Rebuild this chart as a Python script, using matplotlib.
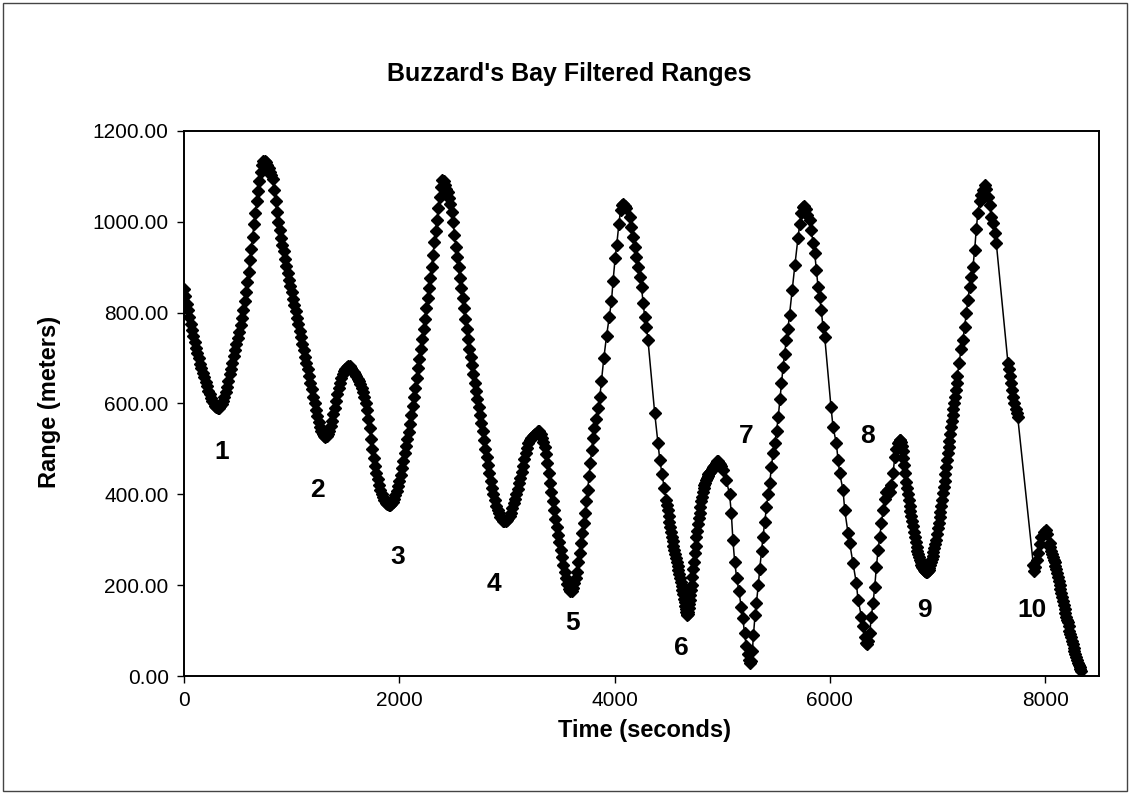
import matplotlib
matplotlib.use('Agg')
import matplotlib.pyplot as plt
from matplotlib.patches import Rectangle

plt.rcParams['font.family'] = ['Liberation Sans', 'DejaVu Sans']

# ── Datos ───────────────────────────────────────────────────────────────────
# tramo denso (0 - 3825 s), muestras cada 25 s
time_dense = [
    0, 25, 50, 75, 100, 125, 150, 175, 200, 225, 250, 275, 300, 325, 350, 375,
    400, 425, 450, 475, 500, 525, 550, 575, 600, 625, 650, 675, 700, 725, 750,
    775, 800, 825, 850, 875, 900, 925, 950, 975, 1000, 1025, 1050, 1075, 1100,
    1125, 1150, 1175, 1200, 1225, 1250, 1275, 1300, 1325, 1350, 1375, 1400,
    1425, 1450, 1475, 1500, 1525, 1550, 1575, 1600, 1625, 1650, 1675, 1700,
    1725, 1750, 1775, 1800, 1825, 1850, 1875, 1900, 1925, 1950, 1975, 2000,
    2025, 2050, 2075, 2100, 2125, 2150, 2175, 2200, 2225, 2250, 2275, 2300,
    2325, 2350, 2375, 2400, 2425, 2450, 2475, 2500, 2525, 2550, 2575, 2600,
    2625, 2650, 2675, 2700, 2725, 2750, 2775, 2800, 2825, 2850, 2875, 2900,
    2925, 2950, 2975, 3000, 3025, 3050, 3075, 3100, 3125, 3150, 3175, 3200,
    3225, 3250, 3275, 3300, 3325, 3350, 3375, 3400, 3425, 3450, 3475, 3500,
    3525, 3550, 3575, 3600, 3625, 3650, 3675, 3700, 3725, 3750, 3775, 3800,
    3825,
]
range_dense = [
    853, 820, 790, 762, 735, 712, 688, 668, 648, 628, 612, 600, 592, 591, 598, 614,
    636, 664, 690, 718, 745, 772, 805, 845, 890, 940, 995, 1045, 1090, 1125, 1135,
    1125, 1110, 1095, 1045, 1000, 965, 935, 903, 873, 845, 817, 789, 760, 732,
    703, 675, 646, 615, 586, 560, 540, 528, 528, 540, 562, 590,
    620, 646, 664, 677, 683, 678, 670, 660, 650, 635, 615, 585,
    545, 500, 462, 433, 410, 394, 382, 377, 378, 390, 408, 430,
    458, 490, 522, 555, 595, 635, 678, 720, 765, 810, 855, 900,
    955, 1005, 1055, 1092, 1080, 1065, 1040, 1000, 945, 900, 855, 810,
    765, 720, 685, 645, 610, 575, 540, 500, 465, 430, 400, 375,
    358, 346, 341, 343, 352, 370, 390, 412, 437, 463, 490, 512,
    525, 530, 536, 539, 525, 505, 470, 425, 385, 345, 310, 278,
    245, 215, 192, 188, 205, 230, 270, 315, 360, 410, 470, 525,
    565,
]

# tramo denso, muestras intermedias (12.5 s desplazadas)
time_dense_mid = [
    12.5, 37.5, 62.5, 87.5, 112.5, 137.5, 162.5, 187.5, 212.5, 237.5, 262.5,
    287.5, 312.5, 337.5, 362.5, 387.5, 412.5, 437.5, 462.5, 487.5, 512.5,
    537.5, 562.5, 587.5, 612.5, 637.5, 662.5, 687.5, 712.5, 737.5, 762.5,
    787.5, 812.5, 837.5, 862.5, 887.5, 912.5, 937.5, 962.5, 987.5, 1012.5,
    1037.5, 1062.5, 1087.5, 1112.5, 1137.5, 1162.5, 1187.5, 1212.5, 1237.5,
    1262.5, 1287.5, 1312.5, 1337.5, 1362.5, 1387.5, 1412.5, 1437.5, 1462.5,
    1487.5, 1512.5, 1537.5, 1562.5, 1587.5, 1612.5, 1637.5, 1662.5, 1687.5,
    1712.5, 1737.5, 1762.5, 1787.5, 1812.5, 1837.5, 1862.5, 1887.5, 1912.5,
    1937.5, 1962.5, 1987.5, 2012.5, 2037.5, 2062.5, 2087.5, 2112.5, 2137.5,
    2162.5, 2187.5, 2212.5, 2237.5, 2262.5, 2287.5, 2312.5, 2337.5, 2362.5,
    2387.5, 2412.5, 2437.5, 2462.5, 2487.5, 2512.5, 2537.5, 2562.5, 2587.5,
    2612.5, 2637.5, 2662.5, 2687.5, 2712.5, 2737.5, 2762.5, 2787.5, 2812.5,
    2837.5, 2862.5, 2887.5, 2912.5, 2937.5, 2962.5, 2987.5, 3012.5, 3037.5,
    3062.5, 3087.5, 3112.5, 3137.5, 3162.5, 3187.5, 3212.5, 3237.5, 3262.5,
    3287.5, 3312.5, 3337.5, 3362.5, 3387.5, 3412.5, 3437.5, 3462.5, 3487.5,
    3512.5, 3537.5, 3562.5, 3587.5, 3612.5, 3637.5, 3662.5, 3687.5, 3712.5,
    3737.5, 3762.5, 3787.5, 3812.5,
]
range_dense_mid = [
    836, 805, 776, 748, 723, 700, 678, 658, 638, 620, 605,
    595, 590, 594, 605, 625, 650, 677, 704, 731, 758,
    788, 825, 867, 915, 967, 1020, 1068, 1110, 1133, 1132,
    1118, 1103, 1070, 1022, 982, 950, 919, 888, 859, 831,
    803, 775, 746, 718, 689, 661, 631, 600, 573,
    549, 533, 526, 533, 550, 576, 605, 634, 656,
    671, 681, 682, 674, 665, 655, 643, 626, 601,
    566, 522, 480, 447, 421, 401, 387, 379, 376,
    383, 398, 418, 443, 474, 506, 538, 575, 615,
    656, 699, 742, 787, 832, 877, 927, 980, 1030,
    1077, 1090, 1073, 1053, 1021, 972, 922, 877, 832,
    787, 742, 702, 665, 627, 592, 557, 520, 482,
    447, 414, 387, 366, 351, 342, 341, 347, 360,
    380, 401, 424, 450, 477, 502, 520, 528, 532,
    540, 533, 516, 488, 447, 405, 365, 327, 294,
    261, 230, 202, 187, 194, 216, 250, 292, 337,
    385, 440, 498, 545,
]

# tramo con muestreo irregular (3847 - 8335 s)
time_sparse = [
    3847, 3863, 3878, 3900, 3925, 3950, 3971, 3986, 4005, 4020, 4040, 4055,
    4070, 4082, 4095, 4110, 4141, 4157, 4172, 4188, 4203, 4219, 4234, 4250,
    4265, 4280, 4296, 4310, 4373, 4404, 4420, 4440, 4460, 4482, 4495, 4510,
    4525, 4540, 4555, 4570, 4585, 4600, 4615, 4630, 4645, 4655, 4665, 4675,
    4685, 4695, 4705, 4715, 4730, 4745, 4760, 4775, 4790, 4805, 4820, 4835,
    4850, 4865, 4880, 4895, 4910, 4925, 4940, 4955, 4970, 4985, 5006, 5037,
    5068, 5084, 5099, 5116, 5135, 5154, 5176, 5192, 5207, 5224, 5239, 5250,
    5260, 5270, 5280, 5290, 5305, 5317, 5335, 5348, 5365, 5379, 5395, 5410,
    5425, 5441, 5457, 5472, 5488, 5505, 5520, 5536, 5550, 5565, 5580, 5595,
    5611, 5625, 5650, 5675, 5704, 5720, 5735, 5750, 5760, 5775, 5790, 5812,
    5828, 5843, 5859, 5874, 5890, 5905, 5920, 5936, 5952, 6010, 6029, 6060,
    6076, 6091, 6122, 6138, 6169, 6184, 6215, 6246, 6262, 6293, 6308, 6323,
    6335, 6345, 6355, 6370, 6385, 6401, 6417, 6432, 6448, 6463, 6479, 6494,
    6510, 6525, 6540, 6556, 6570, 6587, 6603, 6618, 6634, 6648, 6660, 6675,
    6690, 6710, 6725, 6740, 6755, 6772, 6790, 6805, 6820, 6834, 6850, 6865,
    6880, 6895, 6910, 6925, 6940, 6955, 6970, 6988, 7005, 7020, 7035, 7050,
    7065, 7080, 7095, 7110, 7125, 7140, 7155, 7170, 7185, 7200, 7220, 7236,
    7252, 7267, 7283, 7298, 7314, 7329, 7345, 7360, 7375, 7390, 7405, 7420,
    7437, 7453, 7468, 7484, 7499, 7515, 7530, 7546, 7654, 7665, 7675, 7685,
    7695, 7705, 7715, 7725, 7735, 7745, 7890, 7900, 7910, 7920, 7935, 7950,
    7965, 7985, 8005, 8020, 8041, 8055, 8070, 8087, 8100, 8115, 8134, 8150,
    8165, 8180, 8195, 8211, 8225, 8240, 8258, 8270, 8285, 8304, 8320, 8335,
]
range_sparse = [
    590, 615, 650, 700, 748, 790, 825, 870, 920, 950, 995, 1025,
    1038, 1040, 1035, 1030, 1011, 989, 967, 945, 923, 901, 879, 857,
    821, 791, 769, 740, 578, 512, 476, 445, 415, 387, 365, 340,
    318, 297, 277, 260, 243, 225, 207, 190, 170, 155, 140, 135,
    142, 158, 178, 200, 235, 270, 305, 335, 360, 385, 405, 420,
    432, 440, 447, 452, 458, 463, 468, 473, 470, 462, 453, 432,
    400, 360, 300, 250, 215, 188, 152, 127, 94, 65, 48, 35,
    28, 32, 55, 90, 135, 160, 200, 235, 275, 307, 340, 373,
    400, 424, 461, 490, 512, 540, 570, 610, 645, 680, 710, 740,
    765, 795, 850, 905, 965, 995, 1020, 1033, 1035, 1028, 1015, 1004,
    982, 953, 931, 894, 857, 835, 805, 769, 747, 593, 549, 512,
    476, 446, 410, 365, 314, 292, 248, 204, 167, 131, 109, 85,
    72, 70, 78, 94, 131, 160, 197, 241, 277, 307, 336, 365,
    390, 405, 410, 405, 420, 446, 483, 500, 512, 520, 515, 495,
    465, 428, 400, 375, 352, 330, 305, 285, 268, 255, 245, 237,
    232, 230, 231, 238, 250, 265, 282, 299, 325, 350, 375, 402,
    430, 460, 490, 518, 548, 575, 600, 630, 660, 690, 720, 740,
    769, 799, 828, 857, 879, 901, 938, 985, 1020, 1045, 1060, 1070,
    1081, 1072, 1055, 1038, 1011, 997, 975, 953, 690, 675, 660, 645,
    630, 615, 600, 588, 578, 570, 245, 232, 240, 255, 270, 290,
    305, 318, 322, 312, 292, 275, 262, 250, 235, 218, 200, 182,
    165, 148, 130, 118, 100, 85, 70, 55, 42, 28, 20, 12,
]

# muestras extra en las zonas densas de la derecha
time_sparse_mid = [
    4488, 4502, 4517, 4532, 4547, 4562, 4577, 4592, 4607, 4622, 4637, 4650,
    4660, 4670, 4680, 4690, 4700, 4710, 4722, 4737, 4752, 4767, 4782, 4797,
    4812, 4827, 4842, 4857, 4872, 4887, 4902, 4917, 4932, 4947, 4962, 4977,
    6641, 6654, 6667, 6682, 6700, 6717, 6732, 6747, 6763, 6781, 6797, 6812,
    6827, 6842, 6857, 6872, 6887, 6902, 6917, 6932, 6947, 6962, 6979, 6996,
    7012, 7027, 7042, 7057, 7072, 7087, 7102, 7117, 7132, 7147, 7162, 7177,
    8048, 8062, 8078, 8093, 8107, 8124, 8142, 8157, 8172, 8187, 8203, 8218,
    8232, 8249, 8264, 8277, 8294, 8312, 8328,
]
range_sparse_mid = [
    376, 352, 329, 307, 287, 268, 251, 234, 216, 198, 180, 162,
    147, 137, 137, 149, 168, 189, 217, 252, 287, 320, 348, 372,
    395, 413, 426, 436, 444, 450, 455, 460, 465, 471, 473, 467,
    516, 519, 506, 481, 447, 414, 388, 363, 341, 317, 295, 276,
    261, 250, 241, 234, 231, 230, 234, 244, 257, 273, 290, 312,
    337, 362, 388, 416, 445, 475, 504, 533, 561, 587, 615, 645,
    284, 268, 256, 242, 226, 209, 191, 173, 156, 139, 124, 109,
    92, 77, 62, 48, 35, 24, 15,
]

# etiquetas numeradas (posición en datos)
pass_labels = ['1', '2', '3', '4', '5', '6', '7', '8', '9', '10']
label_t = [353, 1235, 1987, 2878, 3612, 4624, 5218, 6351, 6880, 7874]
label_r = [493, 410, 262, 203, 117, 62, 528, 528, 145, 145]

# unir todas las muestras en orden temporal
pts = sorted(zip(time_dense + time_dense_mid + time_sparse + time_sparse_mid,
                 range_dense + range_dense_mid + range_sparse + range_sparse_mid))
time_s = [p[0] for p in pts]
range_m = [p[1] for p in pts]

# ── Gráfica ────────────────────────────────────────────────────────────────
fig = plt.figure(figsize=(11.3, 7.93), dpi=100)
ax = fig.add_axes([184 / 1130, 1 - 676 / 793, (1099 - 184) / 1130, (676 - 131) / 793])

ax.plot(time_s, range_m, color='black', linewidth=1.1, marker='D',
        markersize=5.9, markerfacecolor='black', markeredgecolor='black')

for txt, t, r in zip(pass_labels, label_t, label_r):
    ax.text(t, r, txt, ha='center', va='center', fontsize=19, fontweight='bold')

ax.set_xlim(0, 8500)
ax.set_ylim(0, 1200)
ax.set_xticks([0, 2000, 4000, 6000, 8000])
ax.set_yticks([0, 200, 400, 600, 800, 1000, 1200])
ax.set_yticklabels([f'{v:.2f}' for v in [0, 200, 400, 600, 800, 1000, 1200]])
ax.tick_params(direction='out', length=5, width=1, labelsize=15, pad=6, colors='black')
for sp in ax.spines.values():
    sp.set_linewidth(1.4)
    sp.set_color('black')

fig.text(569 / 1130, 1 - 74 / 793, "Buzzard's Bay Filtered Ranges",
         ha='center', va='center', fontsize=18, fontweight='bold')
fig.text(645 / 1130, 1 - 731 / 793, 'Time (seconds)',
         ha='center', va='center', fontsize=17, fontweight='bold')
fig.text(50 / 1130, 1 - 402 / 793, 'Range (meters)', rotation=90,
         ha='center', va='center', fontsize=17, fontweight='bold')

# marco exterior
fig.patches.append(Rectangle((0.003, 0.003), 0.994, 0.993, transform=fig.transFigure,
                             fill=False, edgecolor='#444444', linewidth=1.0))

plt.savefig('out.png', dpi=100)
